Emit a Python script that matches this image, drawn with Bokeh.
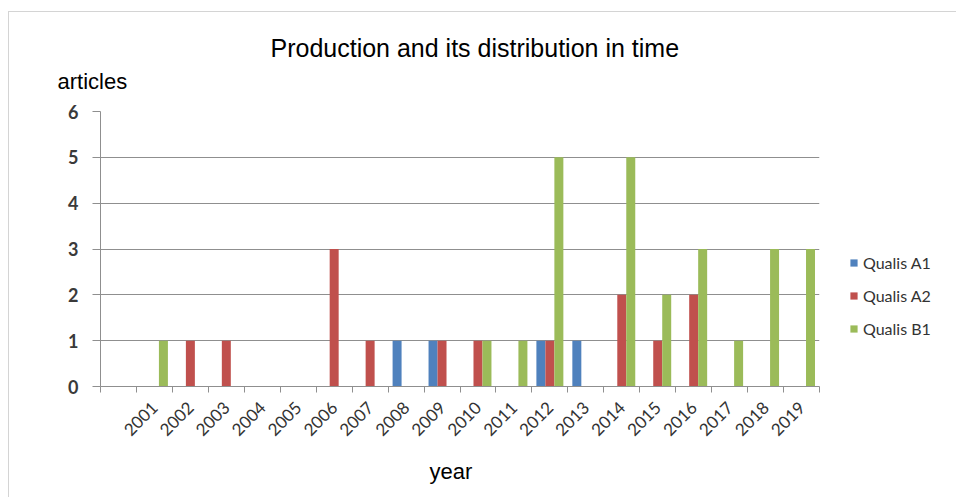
import numpy as np
from bokeh.plotting import figure
from bokeh.models import FixedTicker, Legend, LegendItem, Range1d, Title
from bokeh.embed import file_html
from bokeh.resources import INLINE

# ---- data ----
years = ["", "2001", "2002", "2003", "2004", "2005", "2006", "2007", "2008", "2009",
         "2010", "2011", "2012", "2013", "2014", "2015", "2016", "2017", "2018", "2019"]
qualis_a1 = [0, 0, 0, 0, 0, 0, 0, 0, 1, 1, 0, 0, 1, 1, 0, 0, 0, 0, 0, 0]
qualis_a2 = [0, 0, 1, 1, 0, 0, 3, 1, 0, 1, 1, 0, 1, 0, 2, 1, 2, 0, 0, 0]
qualis_b1 = [0, 1, 0, 0, 0, 0, 0, 0, 0, 0, 1, 1, 5, 0, 5, 2, 3, 1, 3, 3]
series_names = ["Qualis A1", "Qualis A2", "Qualis B1"]
y_ticks = [0, 1, 2, 3, 4, 5, 6]

colors = ["#4F81BD", "#C0504D", "#9BBB59"]
GRAY = "#8f8f8f"

n = len(years)
idx = np.arange(n)

p = figure(width=947, height=485, frame_width=719, frame_height=275,
           min_border_left=91, min_border_top=99, min_border_bottom=111, min_border_right=137,
           x_range=Range1d(-0.5, n - 0.5), y_range=Range1d(0, 6), title=None,
           output_backend="svg", toolbar_location=None, margin=(11, 0, 0, 8))
p.styles = {"border-left": "1px solid #d4d4d4", "border-top": "1px solid #d4d4d4"}
p.outline_line_color = None
p.background_fill_color = "white"
p.border_fill_color = "white"

bw = 0.25
renderers = []
for off, vals, c in zip([-bw, 0, bw], [qualis_a1, qualis_a2, qualis_b1], colors):
    r = p.vbar(x=idx + off, top=vals, width=bw, fill_color=c, line_color=None)
    renderers.append(r)

# x axis
xa = p.xaxis[0]
xa.ticker = FixedTicker(ticks=list(range(n)), minor_ticks=[i - 0.5 for i in range(n + 1)])
xa.major_label_overrides = {i: years[i] for i in range(n)}
xa.major_label_orientation = np.pi / 4
xa.major_tick_out = 0
xa.major_tick_in = 0
xa.minor_tick_out = 6
xa.minor_tick_in = 0
xa.minor_tick_line_color = GRAY
xa.axis_line_color = GRAY
xa.major_label_text_font = "Lato"
xa.major_label_text_font_size = "17px"
xa.major_label_text_color = "#333333"
xa.major_label_standoff = 12

# y axis
ya = p.yaxis[0]
ya.ticker = FixedTicker(ticks=y_ticks)
ya.major_tick_out = 8
ya.major_tick_in = 0
ya.minor_tick_out = 0
ya.minor_tick_in = 0
ya.major_tick_line_color = GRAY
ya.axis_line_color = GRAY
ya.major_label_text_font = "Lato"
ya.major_label_text_font_style = "bold"
ya.major_label_text_font_size = "18px"
ya.major_label_text_color = "#3a3a3a"
ya.major_label_standoff = 14

p.xgrid.grid_line_color = None
p.ygrid.grid_line_color = GRAY
p.ygrid.grid_line_width = 1
p.ygrid.ticker = FixedTicker(ticks=y_ticks)

# texts (titles in side panels)
p.add_layout(Title(text="articles", align="left", offset=-43, standoff=35,
                   text_font="Liberation Sans", text_font_size="22px",
                   text_font_style="normal", text_color="#000000"), "above")
p.add_layout(Title(text="Production and its distribution in time", align="left", offset=170,
                   standoff=-24, text_font="Liberation Sans", text_font_size="25px",
                   text_font_style="normal", text_color="#000000"), "above")
p.add_layout(Title(text="year", align="left", offset=329, standoff=24,
                   text_font="Liberation Sans", text_font_size="22px",
                   text_font_style="normal", text_color="#000000"), "below")

legend = Legend(items=[LegendItem(label=nm, renderers=[r]) for nm, r in zip(series_names, renderers)],
                location=(30, 48), padding=0, spacing=13, glyph_width=9, glyph_height=9,
                label_standoff=5, label_text_font="Lato", label_text_font_size="16px",
                label_text_color="#333333", border_line_color=None, background_fill_alpha=0,
                label_height=20)
p.add_layout(legend, "right")

open("out.html", "w").write(file_html(p, INLINE))
